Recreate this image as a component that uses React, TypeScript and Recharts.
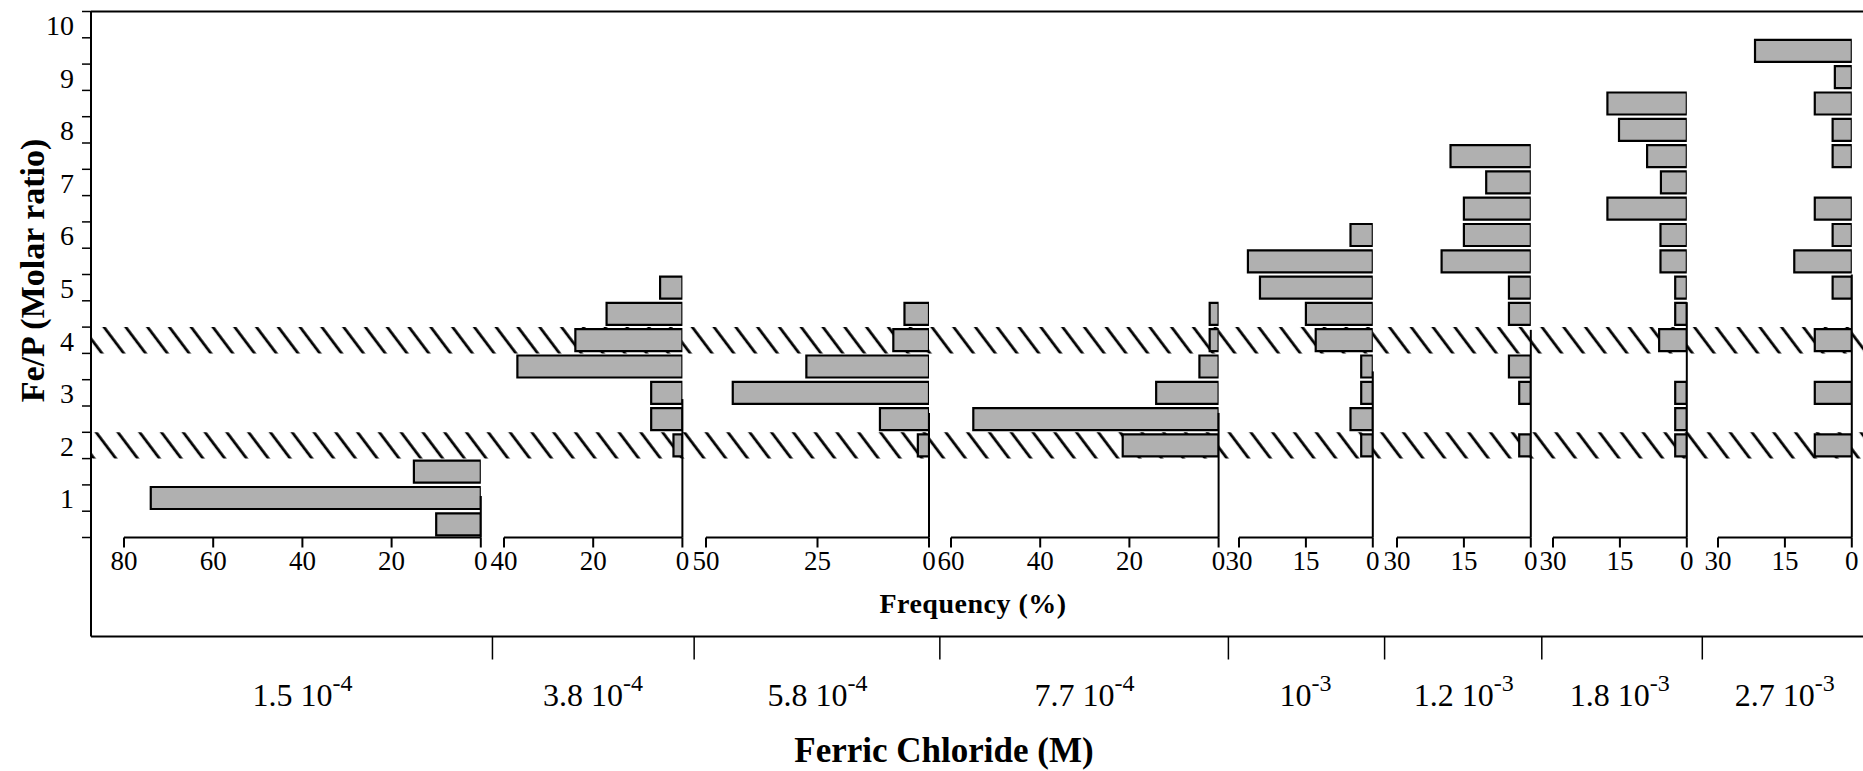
import React from 'react';
import { BarChart, Bar, XAxis, YAxis, ReferenceLine, ReferenceArea, ComposedChart, Label } from 'recharts';

// ---------------- DATA ----------------
// Fe/P bins (lower edge of each 0.5-wide bin)
const binStarts = [0, 0.5, 1, 1.5, 2, 2.5, 3, 3.5, 4, 4.5, 5, 5.5, 6, 6.5, 7, 7.5, 8, 8.5, 9, 9.5];
// Fe/P axis ticks and labels
const yTickValues = [0, 0.5, 1, 1.5, 2, 2.5, 3, 3.5, 4, 4.5, 5, 5.5, 6, 6.5, 7, 7.5, 8, 8.5, 9, 9.5, 10];
const yTickLabels = ['1', '2', '3', '4', '5', '6', '7', '8', '9', '10'];
// Hatched reference bands (Fe/P)
const hatchBandLow = [1.5, 2];
const hatchBandHigh = [3.5, 4];

// Ferric chloride concentrations (M)
const concMantissa = ['1.5', '3.8', '5.8', '7.7', '', '1.2', '1.8', '2.7'];
const concExponent = ['-4', '-4', '-4', '-4', '-3', '-3', '-3', '-3'];

// Frequency axis (%) of each panel
const freqMax = [80, 40, 50, 60, 30, 30, 30, 30];
const freqTicks = [
  [80, 60, 40, 20, 0],
  [40, 20, 0],
  [50, 25, 0],
  [60, 40, 20, 0],
  [30, 15, 0],
  [30, 15, 0],
  [30, 15, 0],
  [30, 15, 0],
];

// Frequency (%) per Fe/P bin, bins from 0 upward
const freq_1_5e4 = [10, 74, 15, 0, 0, 0, 0, 0, 0, 0, 0, 0, 0, 0, 0, 0, 0, 0, 0, 0];
const freq_3_8e4 = [0, 0, 0, 2, 7, 7, 37, 24, 17, 5, 0, 0, 0, 0, 0, 0, 0, 0, 0, 0];
const freq_5_8e4 = [0, 0, 0, 2.5, 11, 44, 27.5, 8, 5.5, 0, 0, 0, 0, 0, 0, 0, 0, 0, 0, 0];
const freq_7_7e4 = [0, 0, 0, 21.5, 55, 14, 4.3, 2, 2, 0, 0, 0, 0, 0, 0, 0, 0, 0, 0, 0];
const freq_1_0e3 = [0, 0, 0, 2.6, 5, 2.6, 2.6, 12.8, 15, 25.3, 28, 5, 0, 0, 0, 0, 0, 0, 0, 0];
const freq_1_2e3 = [0, 0, 0, 2.6, 0, 2.6, 4.9, 0, 4.9, 4.9, 20, 15, 15, 10, 18, 0, 0, 0, 0, 0];
const freq_1_8e3 = [0, 0, 0, 2.6, 2.6, 2.6, 0, 6.2, 2.6, 2.6, 5.9, 5.9, 17.8, 5.8, 8.9, 15.2, 17.8, 0, 0, 0];
const freq_2_7e3 = [0, 0, 0, 8.3, 0, 8.3, 0, 8.3, 0, 4.3, 12.9, 4.3, 8.3, 0, 4.3, 4.3, 8.3, 3.8, 21.7, 0];

const panelSeries = [freq_1_5e4, freq_3_8e4, freq_5_8e4, freq_7_7e4, freq_1_0e3, freq_1_2e3, freq_1_8e3, freq_2_7e3];

// ---------------- LAYOUT ----------------
const W = 1863;
const H = 771;
const PLOT_TOP = 11.5;
const ZERO_Y = 537.5;
const BOX_BOTTOM = 636.5;
const AXIS_X = 91;
const PX_PER_PCT = 4.46;
const panelZeroX = [481, 682.3, 929, 1218.3, 1372.3, 1530.7, 1686.7, 1851.7];
const PANEL_PAD = 22;
const PANEL_XAXIS_H = 40;
const FONT = '"Liberation Serif", "Times New Roman", serif';

const Y_PX_PER_UNIT = (ZERO_Y - PLOT_TOP) / 10;
const FRAME_Y_MIN = -(BOX_BOTTOM - ZERO_Y) / Y_PX_PER_UNIT;

const panelLeftX = panelZeroX.map((z, i) => z - freqMax[i] * PX_PER_PCT);
const concCenters = panelZeroX.map((z, i) => (z + panelLeftX[i]) / 2);
const concBoundaries = panelZeroX.slice(0, -1).map((z, i) => (z + panelLeftX[i + 1]) / 2);

const YTick = (props: any) => {
  const { x, y, payload } = props;
  const v = payload.value;
  if (!Number.isInteger(v) || v === 0) return <g />;
  return (
    <text x={x} y={y + 14} textAnchor="end" dominantBaseline="central" fontSize={28} fill="#000" fontFamily={FONT}>
      {yTickLabels[v - 1]}
    </text>
  );
};

const ConcTick = (props: any) => {
  const { x, y, payload } = props;
  const v = payload.value;
  const ci = concCenters.findIndex((c) => Math.abs(c - v) < 0.01);
  if (ci < 0) {
    return <line x1={x} x2={x} y1={y} y2={y + 23} stroke="#000" strokeWidth={1.5} />;
  }
  const m = concMantissa[ci];
  return (
    <text x={x} y={y + 69} textAnchor="middle" fontSize={32} fill="#000" fontFamily={FONT}>
      <tspan>{m ? m + ' 10' : '10'}</tspan>
      <tspan fontSize={24} dy={-15}>{concExponent[ci]}</tspan>
    </text>
  );
};

const frameTicksX = [...concBoundaries, ...concCenters].sort((a, b) => a - b);
const frameData = frameTicksX.map((x) => ({ x, y: 0 }));

const Frame = () => {
  return (
    <ComposedChart width={W} height={H} data={frameData} margin={{ top: PLOT_TOP, right: 0, bottom: 0, left: 0 }}>
      <defs>
        <pattern id="hatch" patternUnits="userSpaceOnUse" width={17.4} height={10} patternTransform="rotate(-37)">
          <line x1={8} y1={-1} x2={8} y2={11} stroke="#000" strokeWidth={2.8} />
        </pattern>
      </defs>
      <XAxis
        type="number"
        dataKey="x"
        domain={[AXIS_X, W]}
        allowDataOverflow
        ticks={frameTicksX}
        interval={0}
        tickSize={0}
        tickMargin={0}
        tickLine={false}
        tick={<ConcTick />}
        axisLine={{ stroke: '#000', strokeWidth: 2 }}
        height={H - BOX_BOTTOM}
      >
        <Label
          content={(p: any) => {
            const vb = p.viewBox;
            const cx = vb.x + vb.width / 2;
            return (
              <g>
                <text x={cx - 4} y={vb.y - 23.5} textAnchor="middle" fontSize={28} fontWeight="bold" letterSpacing={0.5} fill="#000" fontFamily={FONT}>
                  Frequency (%)
                </text>
                <text x={cx - 33} y={vb.y + 125.5} textAnchor="middle" fontSize={35} fontWeight="bold" fill="#000" fontFamily={FONT}>
                  Ferric Chloride (M)
                </text>
              </g>
            );
          }}
        />
      </XAxis>
      <YAxis
        type="number"
        dataKey="y"
        domain={[FRAME_Y_MIN, 10]}
        allowDataOverflow
        ticks={yTickValues}
        interval={0}
        width={AXIS_X}
        tickSize={9}
        tickMargin={8}
        tick={<YTick />}
        tickLine={{ stroke: '#000', strokeWidth: 1.5 }}
        axisLine={{ stroke: '#000', strokeWidth: 2 }}
      >
        <Label
          content={() => {
            const cy = (PLOT_TOP + ZERO_Y) / 2 - 4;
            const bx = 44;
            return (
              <text
                x={bx}
                y={cy}
                transform={`rotate(-90, ${bx}, ${cy})`}
                textAnchor="middle"
                fontSize={34}
                fontWeight="bold"
                fill="#000"
                fontFamily={FONT}
              >
                Fe/P (Molar ratio)
              </text>
            );
          }}
        />
      </YAxis>
      <ReferenceArea y1={hatchBandLow[0]} y2={hatchBandLow[1]} fill="url(#hatch)" fillOpacity={1} stroke="none" />
      <ReferenceArea y1={hatchBandHigh[0]} y2={hatchBandHigh[1]} fill="url(#hatch)" fillOpacity={1} stroke="none" />
      <ReferenceLine y={10} stroke="#000" strokeWidth={2} />
    </ComposedChart>
  );
};

const Panel = ({ idx }: { idx: number }) => {
  const series = panelSeries[idx];
  const max = freqMax[idx];
  const data = binStarts.map((b, i) => ({ bin: String(b), v: series[i] }));
  let top = 0;
  series.forEach((v, i) => {
    if (v > 0) top = Math.max(top, binStarts[i] + 0.5);
  });
  const plotW = max * PX_PER_PCT;
  const left = panelLeftX[idx] - PANEL_PAD;
  return (
    <div style={{ position: 'absolute', left, top: 0 }}>
      <BarChart
        layout="vertical"
        width={plotW + 2 * PANEL_PAD}
        height={H}
        data={data}
        barCategoryGap="8%"
        margin={{ top: PLOT_TOP, bottom: H - ZERO_Y - PANEL_XAXIS_H, left: PANEL_PAD, right: PANEL_PAD }}
      >
        <XAxis
          type="number"
          domain={[0, max]}
          allowDataOverflow
          reversed
          ticks={freqTicks[idx]}
          interval={0}
          height={PANEL_XAXIS_H}
          tickSize={10}
          tickMargin={3}
          axisLine={{ stroke: '#000', strokeWidth: 2 }}
          tickLine={{ stroke: '#000', strokeWidth: 2 }}
          tick={{ fill: '#000', fontSize: 27, fontFamily: FONT }}
        />
        <YAxis yAxisId="cat" type="category" dataKey="bin" reversed hide />
        <YAxis yAxisId="num" type="number" domain={[0, 10]} allowDataOverflow reversed hide />
        <Bar yAxisId="cat" dataKey="v" fill="#b0b0b0" stroke="#000" strokeWidth={2.2} isAnimationActive={false} />
        <ReferenceLine
          yAxisId="num"
          segment={[
            { x: 0, y: 0 },
            { x: 0, y: top },
          ]}
          stroke="#000"
          strokeWidth={2}
        />
      </BarChart>
    </div>
  );
};

export default function App() {
  return (
    <div
      style={{
        position: 'fixed',
        left: 0,
        top: 0,
        width: W,
        height: H,
        background: '#fff',
        overflow: 'hidden',
        fontFamily: FONT,
      }}
    >
      <div style={{ position: 'absolute', left: 0, top: 0 }}>
        <Frame />
      </div>
      {panelSeries.map((_, i) => (
        <Panel key={i} idx={i} />
      ))}
    </div>
  );
}
